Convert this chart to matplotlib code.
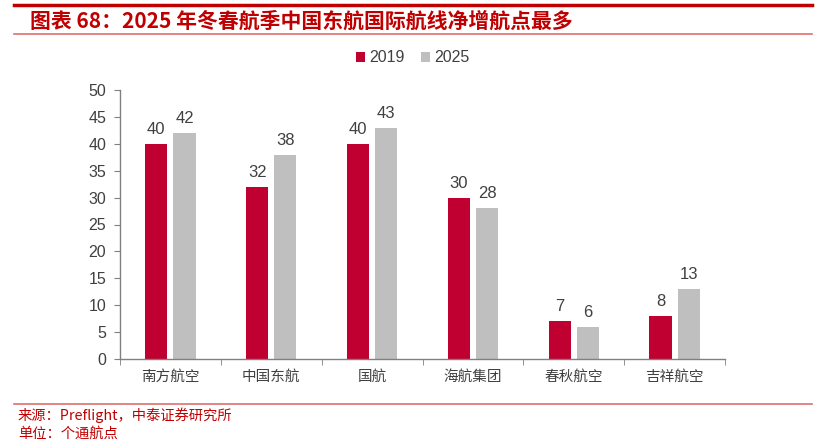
import matplotlib
matplotlib.use("Agg")
import matplotlib.pyplot as plt
import numpy as np
from matplotlib.lines import Line2D
from matplotlib.patches import Patch

plt.rcParams['font.family'] = ['Noto Sans CJK SC', 'DejaVu Sans']

categories = ['南方航空', '中国东航', '国航', '海航集团', '春秋航空', '吉祥航空']
series_names = ['2019', '2025']
values_2019 = [40, 32, 40, 30, 7, 8]
values_2025 = [42, 38, 43, 28, 6, 13]
yticks = [0, 5, 10, 15, 20, 25, 30, 35, 40, 45, 50]

RED = '#C00030'
GRAY = '#BFBFBF'
TXT = '#404040'
TITLE_RED = '#C00000'
NUMFONT = 'Liberation Sans'

W, H = 826, 447
fig = plt.figure(figsize=(W / 100, H / 100), dpi=100)

ax = fig.add_axes([120 / W, 1 - 359 / H, (725 - 120) / W, (359 - 90) / H])
x = np.arange(len(categories))
bw = 0.22
off = 0.14
b1 = ax.bar(x - off, values_2019, bw, color=RED, label=series_names[0], zorder=2)
b2 = ax.bar(x + off, values_2025, bw, color=GRAY, label=series_names[1], zorder=2)
for bars in (b1, b2):
    for r in bars:
        ax.text(r.get_x() + r.get_width() / 2, r.get_height() + 1.3, f'{int(r.get_height())}',
                ha='center', va='bottom', fontsize=12, color=TXT, family=NUMFONT)

ax.set_xlim(-0.5, len(categories) - 0.5)
ax.set_ylim(0, 50)
ax.set_yticks(yticks)
ax.set_yticklabels([str(t) for t in yticks], fontsize=11.5, color=TXT, family=NUMFONT)
ax.set_xticks(x)
ax.set_xticklabels(categories, fontsize=10.5, color=TXT)
ax.tick_params(axis='x', length=0, pad=8)
ax.set_xticks(np.arange(len(categories) + 1) - 0.5, minor=True)
ax.tick_params(axis='x', which='minor', length=4, direction='out', color='#808080')
ax.tick_params(axis='y', length=4, direction='out', color='#808080', pad=6)
for s in ('top', 'right'):
    ax.spines[s].set_visible(False)
for s in ('left', 'bottom'):
    ax.spines[s].set_color('#808080')
    ax.spines[s].set_linewidth(1.0)

handles = [Patch(facecolor=RED, edgecolor='none'), Patch(facecolor=GRAY, edgecolor='none')]
fig.legend(handles, series_names, loc='center', bbox_to_anchor=(413 / W, 1 - 58 / H), ncol=2,
           frameon=False, handlelength=0.55, handleheight=0.55, handletextpad=0.3, columnspacing=1.0,
           prop={'family': NUMFONT, 'size': 11.5}, labelcolor=TXT)

# decorations
fig.add_artist(Line2D([14 / W, 812 / W], [1 - 5 / H, 1 - 5 / H], color=TITLE_RED, lw=2.5, transform=fig.transFigure))
fig.add_artist(Line2D([14 / W, 812 / W], [1 - 34 / H, 1 - 34 / H], color='#E07070', lw=1.2, transform=fig.transFigure))
fig.add_artist(Line2D([14 / W, 812 / W], [1 - 404 / H, 1 - 404 / H], color='#E07070', lw=1.2, transform=fig.transFigure))

fig.text(30 / W, 1 - 21 / H, '图表 68：2025 年冬春航季中国东航国际航线净增航点最多', fontsize=15, fontweight='bold',
         style='italic', color=TITLE_RED, ha='left', va='center')
fig.text(18 / W, 1 - 415 / H, '来源：Preflight，中泰证券研究所', fontsize=10.3, color=TITLE_RED, ha='left', va='center')
fig.text(18 / W, 1 - 434 / H, '单位：个通航点', fontsize=10.3, color=TITLE_RED, ha='left', va='center')

fig.savefig('out.png', dpi=100)
